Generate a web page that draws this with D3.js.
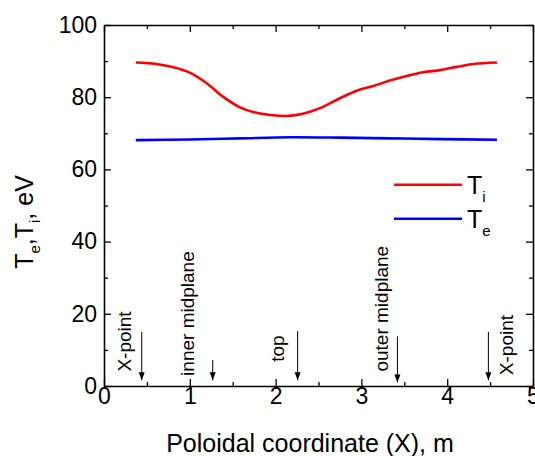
<!DOCTYPE html>
<html>
<head>
<meta charset="utf-8">
<script src="https://cdn.jsdelivr.net/npm/d3@7"></script>
<style>
  body { margin: 0; background: #fff; }
  svg { display: block; font-family: "Liberation Sans", Arial, sans-serif; }
</style>
</head>
<body>
<div id="chart"></div>
<script>
"use strict";
// poloidal coordinate (m) and temperatures (eV)
const tiX = [0.37, 0.61, 0.81, 1.0, 1.2, 1.39, 1.585, 1.78, 1.97, 2.11, 2.25, 2.4, 2.56, 2.75, 2.945, 3.14, 3.33, 3.53, 3.72, 3.92, 4.11, 4.31, 4.58];
const tiY = [89.6, 89.2, 88.3, 86.8, 83.8, 80.1, 77.2, 75.7, 75.0, 74.8, 75.1, 76.0, 77.4, 79.7, 81.8, 83.1, 84.6, 85.9, 86.9, 87.5, 88.4, 89.2, 89.6];
const teX = [0.37, 1.0, 1.585, 2.17, 2.75, 3.33, 3.92, 4.58];
const teY = [68.1, 68.3, 68.6, 68.9, 68.8, 68.6, 68.4, 68.2];

const xTicks = [0, 1, 2, 3, 4, 5];
const xMinor = [0.5, 1.5, 2.5, 3.5, 4.5];
const yTicks = [0, 20, 40, 60, 80, 100];
const yMinor = [10, 30, 50, 70, 90];

// location markers: arrow position, arrow top, label anchor (data units)
const markNames = ["X-point", "inner midplane", "top", "outer midplane", "X-point"];
const markX = [0.44, 1.267, 2.257, 3.42, 4.48];
const markTop = [15.0, 7.2, 15.2, 13.7, 15.0];
const markBottom = [1.6, 1.6, 1.6, 1.0, 1.6];
const labelX = [0.318, 1.05, 2.10, 3.305, 4.77];
const labelY = [4.0, 2.8, 6.7, 4.0, 3.0];

const svgWidth = 535, svgHeight = 456;
const plotLeft = 104, plotRight = 533, plotTop = 25, plotBottom = 386;

const svg = d3.select("#chart").append("svg")
    .attr("width", svgWidth)
    .attr("height", svgHeight);

const x = d3.scaleLinear().domain([0, 5]).range([plotLeft, plotRight]);
const y = d3.scaleLinear().domain([0, 100]).range([plotBottom, plotTop]);

svg.append("defs").append("marker")
    .attr("id", "head")
    .attr("viewBox", "0 0 8 10")
    .attr("refX", 8).attr("refY", 5)
    .attr("markerWidth", 8).attr("markerHeight", 10)
    .attr("markerUnits", "userSpaceOnUse")
    .attr("orient", "auto")
    .append("path")
    .attr("d", "M0,2 L8,5 L0,8 Z")
    .attr("fill", "#000");

// curves
const line = d3.line()
    .x(d => x(d[0]))
    .y(d => y(d[1]))
    .curve(d3.curveCatmullRom.alpha(0.5));

svg.append("path")
    .datum(tiX.map((v, i) => [v, tiY[i]]))
    .attr("d", line)
    .attr("fill", "none")
    .attr("stroke", "#ff0000")
    .attr("stroke-width", 2.6);

svg.append("path")
    .datum(teX.map((v, i) => [v, teY[i]]))
    .attr("d", line)
    .attr("fill", "none")
    .attr("stroke", "#0000ff")
    .attr("stroke-width", 2.6);

// axes, ticks all pointing inward
function styleAxis(g) {
    g.selectAll("path.domain").attr("stroke", "#000").attr("stroke-width", 1.6);
    g.selectAll(".tick line").attr("stroke", "#000").attr("stroke-width", 1.3);
    g.selectAll("text")
        .attr("font-family", "Liberation Sans, Arial, sans-serif")
        .attr("font-size", 23)
        .attr("fill", "#000");
}

svg.append("g")
    .attr("transform", `translate(0,${plotBottom})`)
    .call(d3.axisBottom(x).tickValues(xTicks).tickSize(-7).tickSizeOuter(0).tickPadding(2).tickFormat(d3.format("d")))
    .call(styleAxis);
svg.append("g")
    .attr("transform", `translate(0,${plotBottom})`)
    .call(d3.axisBottom(x).tickValues(xMinor).tickSize(-4).tickFormat(""))
    .call(g => g.select(".domain").remove())
    .call(styleAxis);

svg.append("g")
    .attr("transform", `translate(0,${plotTop})`)
    .call(d3.axisTop(x).tickValues(xTicks).tickSize(-7).tickSizeOuter(0).tickFormat(""))
    .call(styleAxis);
svg.append("g")
    .attr("transform", `translate(0,${plotTop})`)
    .call(d3.axisTop(x).tickValues(xMinor).tickSize(-4).tickFormat(""))
    .call(g => g.select(".domain").remove())
    .call(styleAxis);

svg.append("g")
    .attr("transform", `translate(${plotLeft},0)`)
    .call(d3.axisLeft(y).tickValues(yTicks).tickSize(-7).tickSizeOuter(0).tickPadding(7).tickFormat(d3.format("d")))
    .call(styleAxis);
svg.append("g")
    .attr("transform", `translate(${plotLeft},0)`)
    .call(d3.axisLeft(y).tickValues(yMinor).tickSize(-4).tickFormat(""))
    .call(g => g.select(".domain").remove())
    .call(styleAxis);

svg.append("g")
    .attr("transform", `translate(${plotRight},0)`)
    .call(d3.axisRight(y).tickValues(yTicks).tickSize(-7).tickSizeOuter(0).tickFormat(""))
    .call(styleAxis);
svg.append("g")
    .attr("transform", `translate(${plotRight},0)`)
    .call(d3.axisRight(y).tickValues(yMinor).tickSize(-4).tickFormat(""))
    .call(g => g.select(".domain").remove())
    .call(styleAxis);

// location arrows and labels
const marks = svg.append("g");
markX.forEach((mx, i) => {
    marks.append("line")
        .attr("x1", x(mx)).attr("x2", x(mx))
        .attr("y1", y(markTop[i])).attr("y2", y(markBottom[i]))
        .attr("stroke", "#000")
        .attr("stroke-width", 1)
        .attr("marker-end", "url(#head)");
    marks.append("text")
        .attr("transform", `translate(${x(labelX[i])},${y(labelY[i])}) rotate(-90)`)
        .attr("font-size", 19)
        .text(markNames[i]);
});

// axis titles
svg.append("text")
    .attr("x", 310)
    .attr("y", 452)
    .attr("text-anchor", "middle")
    .attr("font-size", 25)
    .text("Poloidal coordinate (X), m");

const yTitle = svg.append("text")
    .attr("transform", "translate(33,222) rotate(-90)")
    .attr("text-anchor", "middle")
    .attr("font-size", 25);
yTitle.append("tspan").text("T");
yTitle.append("tspan").attr("dy", 7).attr("font-size", 15).text("e");
yTitle.append("tspan").attr("dy", -7).text(",");
yTitle.append("tspan").text("T");
yTitle.append("tspan").attr("dy", 7).attr("font-size", 15).text("i");
yTitle.append("tspan").attr("dy", -7).text(", eV");

// legend
const legendItems = [
    { color: "#ff0000", sub: "i" },
    { color: "#0000ff", sub: "e" }
];
const legend = svg.append("g");
legendItems.forEach((d, i) => {
    const ly = 184.7 + i * 34;
    legend.append("line")
        .attr("x1", 394).attr("x2", 462)
        .attr("y1", ly).attr("y2", ly)
        .attr("stroke", d.color)
        .attr("stroke-width", 2.6);
    const t = legend.append("text")
        .attr("x", 467)
        .attr("y", ly + 9.5)
        .attr("font-size", 25);
    t.append("tspan").text("T");
    t.append("tspan").attr("dy", 8).attr("font-size", 15).text(d.sub);
});
</script>
</body>
</html>
